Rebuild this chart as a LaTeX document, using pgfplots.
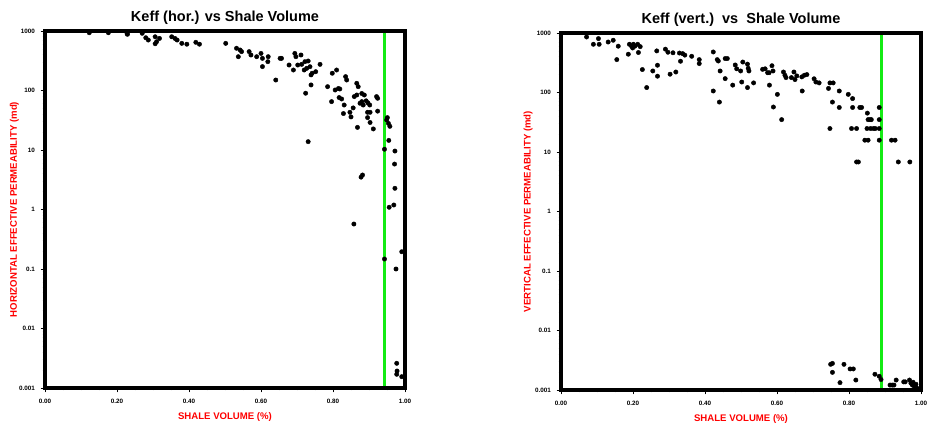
\documentclass[border=0pt]{standalone}
\usepackage{fontspec}
\setmainfont{Liberation Sans}
\usepackage{pgfplots}
\pgfplotsset{compat=1.18}
\definecolor{lgreen}{RGB}{20,235,20}
\begin{document}
\begin{tikzpicture}
\path[use as bounding box] (0,0) rectangle (932pt,430pt);
\begin{axis}[at={(45pt,42pt)}, anchor=south west,
    scale only axis, width=360pt, height=357pt,
    ymode=log, xmin=0, xmax=1, ymin=0.001, ymax=1000,
    axis line style={line width=3.2pt, black},
    clip=false,
    tick align=outside, xtick pos=bottom, ytick pos=left,
    xtick={0,0.2,0.4,0.6,0.8,1},
    xticklabels={0.00,0.20,0.40,0.60,0.80,1.00},
    minor xtick={0.05,0.1,0.15,0.25,0.3,0.35,0.45,0.5,0.55,0.65,0.7,0.75,0.85,0.9,0.95},
    ytick={0.001,0.01,0.1,1,10,100,1000},
    yticklabels={0.001,0.01,0.1,1,10,100,1000},
    minor ytick={0.002,0.003,0.004,0.005,0.006,0.007,0.008,0.009,
                 0.02,0.03,0.04,0.05,0.06,0.07,0.08,0.09,
                 0.2,0.3,0.4,0.5,0.6,0.7,0.8,0.9,
                 2,3,4,5,6,7,8,9,20,30,40,50,60,70,80,90,
                 200,300,400,500,600,700,800,900},
    major tick length=4.5pt, minor tick length=2.5pt,
    every tick/.style={black, line width=0.7pt},
    tick label style={font=\fontsize{6.3}{7}\selectfont\bfseries},
    xticklabel style={yshift=-3pt},
    yticklabel style={xshift=-2pt},
    title style={font=\fontsize{14.5}{16}\selectfont\bfseries, at={(0.5,1)}, anchor=base, yshift=3pt},
    xlabel={SHALE VOLUME (\%)},
    xlabel style={font=\fontsize{9.6}{11}\selectfont\bfseries, text=red, at={(axis description cs:0.5,-0.081)}, anchor=center},
    ylabel style={font=\fontsize{9.6}{11}\selectfont\bfseries, text=red, at={(axis description cs:-0.085,0.5)}, rotate=0, anchor=center},
  title={Keff (hor.) vs Shale Volume},
  ylabel={HORIZONTAL EFFECTIVE PERMEABILITY (md)}]
\addplot[only marks, mark=*, mark size=2.2pt, black] table {
x y
0.123 935
0.176 935
0.228 900
0.229 880
0.270 915
0.280 770
0.287 705
0.306 800
0.318 750
0.310 660
0.306 610
0.352 800
0.361 750
0.367 705
0.380 620
0.394 600
0.419 645
0.429 600
0.502 620
0.532 512
0.542 480
0.537 370
0.546 450
0.567 450
0.572 395
0.588 370
0.600 420
0.604 347
0.620 370
0.619 305
0.604 252
0.641 150
0.653 347
0.657 347
0.678 268
0.690 221
0.694 420
0.697 370
0.702 268
0.713 275
0.711 395
0.722 305
0.731 313
0.727 236
0.720 221
0.736 251
0.742 195
0.739 183
0.752 207
0.764 275
0.724 90
0.739 124
0.731 13.8
0.785 116
0.796 65
0.798 195
0.810 221
0.806 102
0.815 108
0.819 106
0.817 76
0.824 72
0.831 57
0.835 171
0.838 150
0.829 41
0.847 43
0.850 36
0.856 51
0.859 79
0.866 84
0.866 132
0.870 116
0.868 24
0.875 61
0.880 65
0.884 57
0.880 89
0.887 84
0.892 67
0.897 62
0.902 57
0.896 43
0.903 43
0.896 35
0.903 29
0.912 22.6
0.921 79
0.924 74
0.924 45
0.949 32
0.954 28
0.958 25
0.951 35
0.955 14.5
0.943 10.3
0.878 3.5
0.882 3.8
0.972 9.6
0.971 5.8
0.972 2.27
0.956 1.09
0.969 1.19
0.858 0.57
0.943 0.147
0.975 0.1
0.991 0.195
0.977 0.0026
0.978 0.00193
0.977 0.0017
0.991 0.00155
};
\addplot[lgreen, line width=3pt, no marks] coordinates {(0.944,0.001) (0.944,1000)};
\draw[black, line width=3.2pt] (rel axis cs:0,0) rectangle (rel axis cs:1,1);
\end{axis}
\begin{axis}[at={(561pt,40pt)}, anchor=south west,
    scale only axis, width=360pt, height=357pt,
    ymode=log, xmin=0, xmax=1, ymin=0.001, ymax=1000,
    axis line style={line width=3.2pt, black},
    clip=false,
    tick align=outside, xtick pos=bottom, ytick pos=left,
    xtick={0,0.2,0.4,0.6,0.8,1},
    xticklabels={0.00,0.20,0.40,0.60,0.80,1.00},
    minor xtick={0.05,0.1,0.15,0.25,0.3,0.35,0.45,0.5,0.55,0.65,0.7,0.75,0.85,0.9,0.95},
    ytick={0.001,0.01,0.1,1,10,100,1000},
    yticklabels={0.001,0.01,0.1,1,10,100,1000},
    minor ytick={0.002,0.003,0.004,0.005,0.006,0.007,0.008,0.009,
                 0.02,0.03,0.04,0.05,0.06,0.07,0.08,0.09,
                 0.2,0.3,0.4,0.5,0.6,0.7,0.8,0.9,
                 2,3,4,5,6,7,8,9,20,30,40,50,60,70,80,90,
                 200,300,400,500,600,700,800,900},
    major tick length=4.5pt, minor tick length=2.5pt,
    every tick/.style={black, line width=0.7pt},
    tick label style={font=\fontsize{6.3}{7}\selectfont\bfseries},
    xticklabel style={yshift=-3pt},
    yticklabel style={xshift=-2pt},
    title style={font=\fontsize{14.5}{16}\selectfont\bfseries, at={(0.5,1)}, anchor=base, yshift=3pt},
    xlabel={SHALE VOLUME (\%)},
    xlabel style={font=\fontsize{9.6}{11}\selectfont\bfseries, text=red, at={(axis description cs:0.5,-0.081)}, anchor=center},
    ylabel style={font=\fontsize{9.6}{11}\selectfont\bfseries, text=red, at={(axis description cs:-0.091,0.5)}, rotate=0, anchor=center},
  title={Keff (vert.)\ \ vs\ \ Shale Volume},
  ylabel={VERTICAL EFFECTIVE PERMEABILITY (md)}]
\addplot[only marks, mark=*, mark size=2.2pt, black] table {
x y
0.071 857
0.090 646
0.106 646
0.104 805
0.131 705
0.145 755
0.155 357
0.159 600
0.187 440
0.190 646
0.196 600
0.199 560
0.201 646
0.205 600
0.213 646
0.215 470
0.220 590
0.226 243
0.238 121
0.255 230
0.266 500
0.268 287
0.268 188
0.290 535
0.297 475
0.311 465
0.303 203
0.319 221
0.329 460
0.332 335
0.338 450
0.344 425
0.363 406
0.384 357
0.384 306
0.423 480
0.423 106
0.434 357
0.437 338
0.442 230
0.440 69
0.456 372
0.462 372
0.456 171
0.484 290
0.488 250
0.477 133
0.499 230
0.505 325
0.518 300
0.520 255
0.522 230
0.502 150
0.518 121
0.535 145
0.560 245
0.567 250
0.574 215
0.578 215
0.586 282
0.589 230
0.579 133
0.590 57
0.601 93
0.613 35
0.618 221
0.622 195
0.625 178
0.640 178
0.650 165
0.655 190
0.647 221
0.669 183
0.670 106
0.676 195
0.683 200
0.703 170
0.708 150
0.717 145
0.743 117
0.747 145
0.756 145
0.754 69
0.747 24.8
0.773 106
0.773 56
0.798 93
0.810 79
0.810 56
0.807 24.8
0.821 24.8
0.821 6.8
0.826 6.8
0.830 56
0.835 56
0.844 15.8
0.853 15.8
0.851 45
0.853 35
0.858 35
0.862 35
0.850 24.8
0.860 24.8
0.868 24.8
0.873 24.8
0.884 56
0.884 35
0.884 24.8
0.884 15.8
0.918 15.8
0.928 15.8
0.937 6.8
0.969 6.8
0.749 0.0027
0.754 0.0028
0.754 0.00198
0.775 0.00133
0.786 0.0027
0.803 0.00226
0.812 0.00226
0.819 0.00147
0.872 0.00184
0.884 0.0017
0.889 0.0015
0.914 0.00121
0.920 0.00121
0.925 0.00121
0.931 0.00147
0.952 0.00137
0.956 0.00137
0.968 0.00147
0.972 0.0013
0.976 0.00121
0.980 0.00118
0.984 0.00113
0.988 0.00108
0.992 0.00104
0.978 0.00135
0.986 0.00125
};
\addplot[lgreen, line width=3pt, no marks] coordinates {(0.891,0.001) (0.891,1000)};
\draw[black, line width=3.2pt] (rel axis cs:0,0) rectangle (rel axis cs:1,1);
\end{axis}
\end{tikzpicture}
\end{document}
